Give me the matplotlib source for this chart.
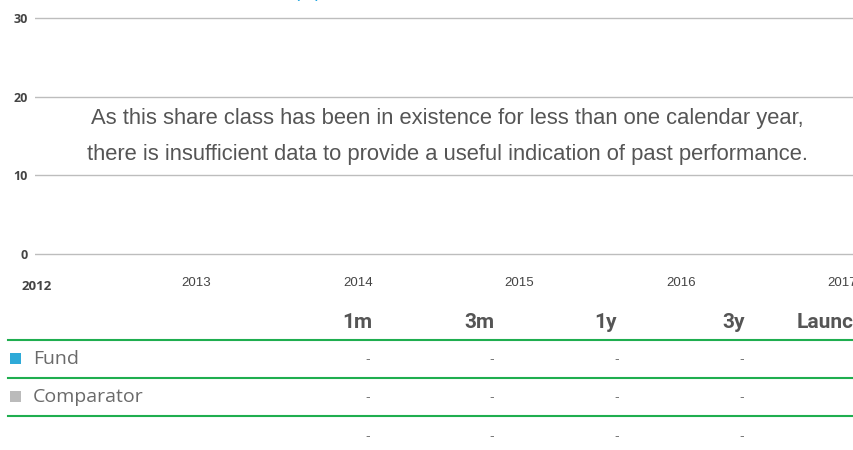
import matplotlib
matplotlib.use("Agg")
import matplotlib.pyplot as plt
from matplotlib.patches import Rectangle
from matplotlib.lines import Line2D

# ---- data ----
years = [2012, 2013, 2014, 2015, 2016, 2017]
y_ticks = [0, 10, 20, 30]
message = ["As this share class has been in existence for less than one calendar year,",
           "there is insufficient data to provide a useful indication of past performance."]
periods = ["1m", "3m", "1y", "3y", "Launch"]
row_labels = ["Fund", "Comparator", ""]
row_colors = ["#2eaad8", "#bbbbbb", None]
row_values = [["-", "-", "-", "-", ""],
              ["-", "-", "-", "-", ""],
              ["-", "-", "-", "-", ""]]

W, H = 854, 450
fig = plt.figure(figsize=(W / 100, H / 100), dpi=100)

def fx(px):
    return px / W

def fy(py):
    return 1 - py / H

# ---- chart axes ----
ppu = (254 - 18) / 30.0  # pixels per unit
pad_u = 0.6
left, right = 35, 860
top, bottom = 18 - pad_u * ppu, 254 + pad_u * ppu
ax = fig.add_axes([fx(left), fy(bottom), fx(right - left), fy(top) - fy(bottom)])
ax.set_ylim(-pad_u, 30 + pad_u)
ax.set_xlim(2012, 2012 + (right - left) / 161.5)
ax.set_yticks(y_ticks)
ax.set_yticklabels([str(v) for v in y_ticks], fontsize=9, fontweight="bold",
                   color="#444444", family="Open Sans")
ax.tick_params(axis="y", length=0, pad=5)
ax.grid(axis="y", color="#bdbdbd", linewidth=1)
ax.set_xticks([])
for s in ax.spines.values():
    s.set_visible(False)
ax.set_axisbelow(True)

# x labels
for yr in years:
    if yr == years[0]:
        ax.text(yr + 0.01, -4.1, str(yr), ha="center", va="center", fontsize=9.5,
                fontweight="bold", color="#444444", family="Open Sans",
                transform=ax.transData, clip_on=False)
    else:
        ax.text(yr, -3.7, str(yr), ha="center", va="center", fontsize=9.5,
                color="#444444", family="Liberation Sans",
                transform=ax.transData, clip_on=False)

# message
xm = 2012 + (448 - 35.5) / 161.5
ax.text(xm, 17.2, message[0], ha="center", va="center",
        fontsize=15.8, color="#555555", family="Liberation Sans")
ax.text(xm, 12.6, message[1], ha="center", va="center",
        fontsize=15.8, color="#555555", family="Liberation Sans")

# cut-off title
fig.text(fx(308), fy(-3), "(%)", ha="center", va="baseline", fontsize=13,
         color="#1aa3e0", family="Liberation Sans")

# ---- table ----
header_x = [372, 495, 617, 745, 797]
dash_x = [368, 492, 617, 742, 866]
header_y = 323
for i, p in enumerate(periods):
    ha = "left" if p == "Launch" else "right"
    fig.text(fx(header_x[i]), fy(header_y), p, ha=ha, va="center", fontsize=15,
             fontweight="bold", color="#555555", family="Roboto")

line_ys = [340, 378, 416]
for ly in line_ys:
    fig.add_artist(Line2D([fx(8), fx(860)], [fy(ly), fy(ly)], color="#1fae4f",
                          linewidth=1.5))

row_ys = [359, 397, 436]
for r, lab in enumerate(row_labels):
    cy = row_ys[r]
    if row_colors[r]:
        fig.add_artist(Rectangle((fx(10), fy(cy + 5)), fx(11), fy(cy - 6) - fy(cy + 5),
                                 facecolor=row_colors[r], edgecolor="none"))
    if lab:
        fig.text(fx(33), fy(cy), lab, ha="left", va="center", fontsize=14,
                 color="#6a6a6a", family="Open Sans")
    for c, v in enumerate(row_values[r]):
        if v:
            fig.text(fx(dash_x[c]), fy(cy), v, ha="center", va="center", fontsize=10,
                     color="#777777", family="Liberation Sans")

fig.savefig("out.png", dpi=100)
